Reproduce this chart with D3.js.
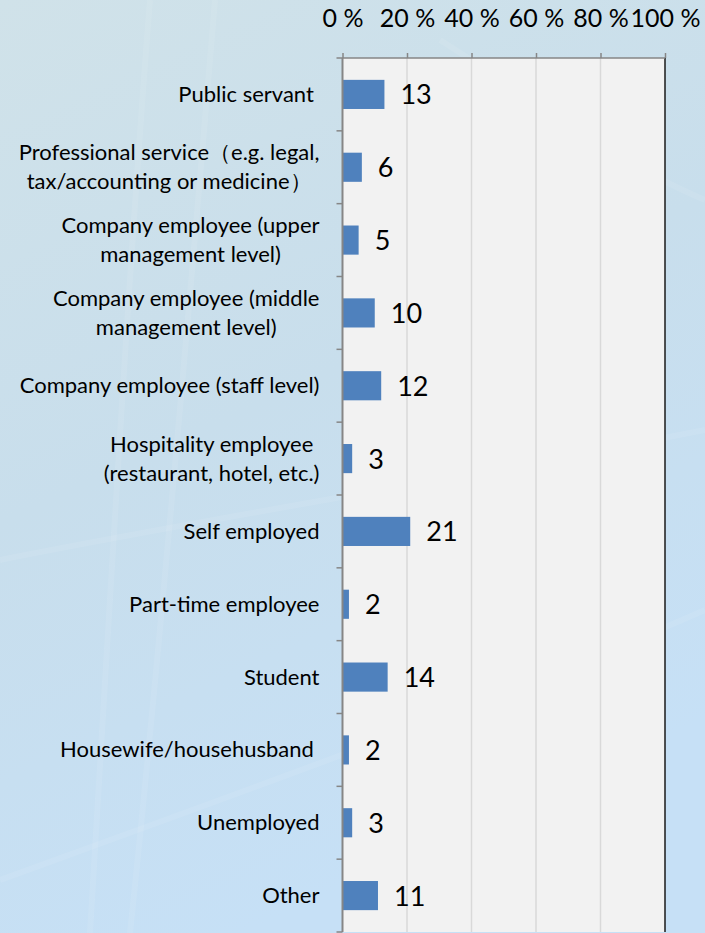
<!DOCTYPE html>
<html>
<head>
<meta charset="utf-8">
<script src="https://cdn.jsdelivr.net/npm/d3@7"></script>
<style>
  html, body { margin: 0; padding: 0; }
  body { width: 705px; height: 933px; overflow: hidden; }
  text { font-family: Lato, "Open Sans", sans-serif; fill: #000; }
  tspan { white-space: pre; }
</style>
</head>
<body>
<div id="chart"></div>
<script>
// categories, top to bottom (multi-line labels split with \n)
const categories = [
    "Public servant ",
    "Professional service（e.g. legal,\ntax/accounting or medicine）",
    "Company employee (upper\nmanagement level)",
    "Company employee (middle\nmanagement level)",
    "Company employee (staff level)",
    "Hospitality employee\n(restaurant, hotel, etc.)",
    "Self employed",
    "Part-time employee",
    "Student",
    "Housewife/househusband ",
    "Unemployed",
    "Other"
];
const values = [13, 6, 5, 10, 12, 3, 21, 2, 14, 2, 3, 11];
const tickValues = [0, 20, 40, 60, 80, 100];

const W = 705, H = 933;
const margin = { top: 58, right: 40, bottom: 1, left: 342.5 };
const width = 665 - margin.left,
    height = H - margin.top - margin.bottom;

let svg = d3.select('#chart')
    .append('svg')
    .attr('width', W)
    .attr('height', H);

// background gradient
let defs = svg.append('defs');
let grad = defs.append('linearGradient')
    .attr('id', 'bg')
    .attr('x1', '0').attr('y1', '0')
    .attr('x2', '0.35').attr('y2', '1');
grad.append('stop').attr('offset', '0%').attr('stop-color', '#d0e2e9');
grad.append('stop').attr('offset', '50%').attr('stop-color', '#c8deec');
grad.append('stop').attr('offset', '100%').attr('stop-color', '#c6e0f6');

svg.append('rect')
    .attr('width', W)
    .attr('height', H)
    .attr('fill', 'url(#bg)');

// faint light streaks in the backdrop
const streaks = [
    "M150,0 C130,250 110,600 90,933",
    "M215,0 C190,300 160,650 130,933",
    "M0,560 C200,520 450,480 705,430",
    "M0,880 C220,800 500,700 705,610",
    "M440,40 C520,90 610,160 705,200"
];
svg.append('g')
    .selectAll('path')
    .data(streaks)
    .join('path')
    .attr('d', d => d)
    .attr('fill', 'none')
    .attr('stroke', '#ffffff')
    .attr('stroke-opacity', 0.08)
    .attr('stroke-width', 6);

let group = svg.append('g')
    .attr('transform', 'translate(' + margin.left + ',' + margin.top + ')');

var x = d3.scaleLinear()
    .domain([0, 100])
    .range([0, width]);

var y = d3.scaleBand()
    .domain(categories)
    .range([0, height])
    .paddingInner(0.6)
    .paddingOuter(0.3);

// plot area
group.append('rect')
    .attr('width', width)
    .attr('height', height)
    .attr('fill', '#f2f2f2');

// vertical gridlines
group.append('g')
    .selectAll('line')
    .data(tickValues.slice(1, -1))
    .join('line')
    .attr('x1', d => x(d))
    .attr('x2', d => x(d))
    .attr('y1', 0)
    .attr('y2', height)
    .attr('stroke', '#d9d9d9')
    .attr('stroke-width', 1.5);

// right border
group.append('line')
    .attr('x1', width).attr('x2', width)
    .attr('y1', 0).attr('y2', height)
    .attr('stroke', '#1a1a1a')
    .attr('stroke-width', 1.5);

// bars
group.selectAll('.bar')
    .data(values)
    .join('rect')
    .attr('class', 'bar')
    .attr('x', 0)
    .attr('y', (d, i) => y(categories[i]))
    .attr('width', d => x(d))
    .attr('height', y.bandwidth())
    .attr('fill', '#4f81bd');

// value labels
group.selectAll('.val')
    .data(values)
    .join('text')
    .attr('class', 'val')
    .attr('x', d => x(d) + 16)
    .attr('y', (d, i) => y(categories[i]) + y.bandwidth() / 2 + 10)
    .attr('font-size', 27)
    .text(d => d);

// top axis
const xAxis = d3.axisTop(x)
    .tickValues(tickValues)
    .tickFormat(d => d + ' %')
    .tickSizeInner(5)
    .tickSizeOuter(0);

let xDisplay = group.append('g')
    .attr('class', 'axis x-axis')
    .call(xAxis);
xDisplay.select('.domain')
    .attr('d', 'M-6,0H' + width)
    .attr('stroke', '#868686')
    .attr('stroke-width', 1.5);
xDisplay.selectAll('.tick line')
    .attr('stroke', '#868686')
    .attr('stroke-width', 1.5);
xDisplay.selectAll('.tick text')
    .attr('font-family', 'Lato, sans-serif')
    .attr('font-size', 25)
    .attr('fill', '#000')
    .attr('dy', 0)
    .attr('y', -31);

// left axis line and category boundary ticks
group.append('line')
    .attr('x1', 0).attr('x2', 0)
    .attr('y1', 0).attr('y2', height)
    .attr('stroke', '#868686')
    .attr('stroke-width', 2);

const step = y.step();
group.append('g')
    .selectAll('line')
    .data(d3.range(1, categories.length + 1))
    .join('line')
    .attr('x1', -6)
    .attr('x2', 0)
    .attr('y1', d => d * step)
    .attr('y2', d => d * step)
    .attr('stroke', '#868686')
    .attr('stroke-width', 1.5);

// category labels: block right-aligned, lines centred within block
const labelRight = -23;
const lineH = 29;
let labels = group.append('g')
    .attr('font-size', 22);

categories.forEach((c, i) => {
    const lines = c.split('\n');
    const cy = y(c) + y.bandwidth() / 2;
    let t = labels.append('text')
        .attr('text-anchor', 'middle');
    lines.forEach((ln, j) => {
        t.append('tspan')
            .attr('y', cy + 7.5 + (j - (lines.length - 1) / 2) * lineH)
            .text(ln);
    });
    // widest line sets the block width
    let maxW = 0;
    t.selectAll('tspan').each(function () {
        maxW = Math.max(maxW, this.getComputedTextLength());
    });
    t.selectAll('tspan').attr('x', labelRight - maxW / 2);
});
</script>
</body>
</html>
